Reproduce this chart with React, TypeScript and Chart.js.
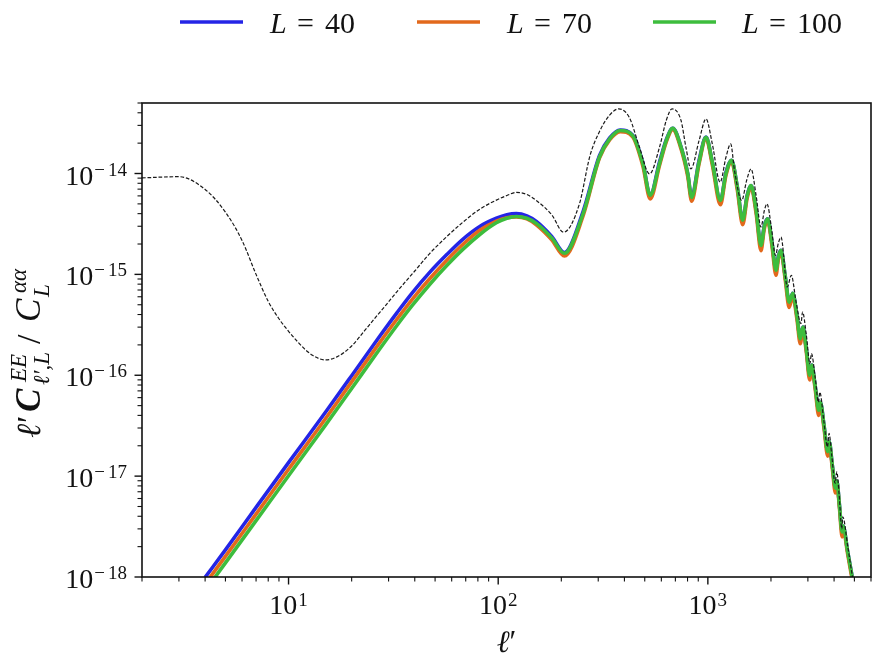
import { useEffect, useRef } from 'react';
import { Chart, registerables } from 'chart.js';

Chart.register(...registerables);

// ---- axis ranges & tick labels ----
const X_MIN = 2;
const X_MAX = 6000;
const Y_MIN = 1e-18;
const Y_MAX = 5e-14;
const xMajorExps = [1, 2, 3];
const yMajorExps = [-18, -17, -16, -15, -14];

// ---- legend ----
const legendLabels = ['40', '70', '100'];
const seriesColors = ['#2424e6', '#e2691c', '#3dbd3d'];

// ---- colored series (shared multipole grid) ----
const ellL = [4, 5, 7, 10, 15, 20, 27, 33, 39, 47, 57, 68, 82, 98, 110, 122, 137, 152, 180, 207, 254, 304, 340, 382, 438, 490, 531, 588, 633, 680, 745, 802, 837, 908, 980, 1050, 1148, 1220, 1297, 1380, 1466, 1540, 1607, 1700, 1792, 1860, 1928, 2020, 2114, 2170, 2233, 2340, 2443, 2540, 2660, 2760, 2840, 2950, 3060, 3130, 3250, 3380, 3440, 3580, 3730, 3790, 3920, 4060, 4120, 4240, 4370, 4420, 4640, 5100];

const valsL40 = [9.9e-19, 1.86e-18, 4.9e-18, 1.36e-17, 4.3e-17, 9.9e-17, 2.38e-16, 4.2e-16, 6.6e-16, 1.04e-15, 1.58e-15, 2.24e-15, 3.0e-15, 3.6e-15, 3.9e-15, 4.0e-15, 3.8e-15, 3.35e-15, 2.38e-15, 1.65e-15, 4.2e-15, 1.5e-14, 2.25e-14, 2.7e-14, 2.4e-14, 1.27e-14, 6.1e-15, 1.3e-14, 2.15e-14, 2.8e-14, 1.83e-14, 9.9e-15, 5.8e-15, 1.35e-14, 2.3e-14, 1.3e-14, 5.4e-15, 1.03e-14, 1.35e-14, 7.5e-15, 3.45e-15, 6.1e-15, 7.6e-15, 4.3e-15, 1.94e-15, 3.05e-15, 3.56e-15, 2.1e-15, 1.1e-15, 1.52e-15, 1.73e-15, 9.5e-16, 5.3e-16, 6.5e-16, 3.9e-16, 2.3e-16, 3.0e-16, 1.8e-16, 1.0e-16, 1.26e-16, 7.8e-17, 4.5e-17, 5.4e-17, 3.2e-17, 1.75e-17, 2.2e-17, 1.3e-17, 7.6e-18, 9.0e-18, 5.2e-18, 2.8e-18, 3.2e-18, 1.8e-18, 6e-19];

const valsL70 = [8.5e-19, 1.6e-18, 4.2e-18, 1.17e-17, 3.7e-17, 8.6e-17, 2.06e-16, 3.63e-16, 5.7e-16, 9.0e-16, 1.39e-15, 1.99e-15, 2.75e-15, 3.38e-15, 3.65e-15, 3.72e-15, 3.55e-15, 3.1e-15, 2.2e-15, 1.52e-15, 3.8e-15, 1.42e-14, 2.15e-14, 2.6e-14, 2.3e-14, 1.18e-14, 5.6e-15, 1.2e-14, 2.05e-14, 2.72e-14, 1.75e-14, 9.3e-15, 5.3e-15, 1.25e-14, 2.22e-14, 1.22e-14, 4.9e-15, 9.6e-15, 1.3e-14, 7.0e-15, 3.1e-15, 5.7e-15, 7.3e-15, 4.0e-15, 1.72e-15, 2.85e-15, 3.4e-15, 1.95e-15, 9.8e-16, 1.42e-15, 1.65e-15, 8.8e-16, 4.7e-16, 6.1e-16, 3.6e-16, 2.05e-16, 2.85e-16, 1.68e-16, 9.0e-17, 1.2e-16, 7.3e-17, 4.0e-17, 5.1e-17, 3.0e-17, 1.58e-17, 2.1e-17, 1.22e-17, 6.8e-18, 8.6e-18, 4.9e-18, 2.5e-18, 3.0e-18, 1.7e-18, 5.6e-19];

const valsL100 = [7.3e-19, 1.38e-18, 3.62e-18, 1.01e-17, 3.2e-17, 7.4e-17, 1.78e-16, 3.15e-16, 4.95e-16, 7.9e-16, 1.23e-15, 1.78e-15, 2.5e-15, 3.25e-15, 3.6e-15, 3.75e-15, 3.6e-15, 3.2e-15, 2.3e-15, 1.62e-15, 3.99e-15, 1.45e-14, 2.2e-14, 2.67e-14, 2.38e-14, 1.25e-14, 6.1e-15, 1.25e-14, 2.12e-14, 2.8e-14, 1.82e-14, 9.9e-15, 5.8e-15, 1.3e-14, 2.29e-14, 1.3e-14, 5.4e-15, 1.0e-14, 1.35e-14, 7.5e-15, 3.45e-15, 6.0e-15, 7.6e-15, 4.3e-15, 1.94e-15, 3.0e-15, 3.56e-15, 2.1e-15, 1.1e-15, 1.5e-15, 1.73e-15, 9.5e-16, 5.3e-16, 6.5e-16, 3.9e-16, 2.3e-16, 3.0e-16, 1.8e-16, 1.0e-16, 1.26e-16, 7.8e-17, 4.5e-17, 5.4e-17, 3.2e-17, 1.75e-17, 2.2e-17, 1.3e-17, 7.6e-18, 9.0e-18, 5.2e-18, 2.8e-18, 3.2e-18, 1.8e-18, 6e-19];

// ---- dashed reference curve ----
const ellRef = [2, 3, 4, 5, 6, 7, 8, 9, 10, 11, 12, 13, 14, 15, 17, 20, 23, 26, 29, 33, 40, 47, 56, 68, 82, 98, 110, 122, 137, 152, 180, 205, 244, 274, 304, 340, 376, 422, 472, 527, 588, 633, 675, 745, 786, 830, 908, 980, 1050, 1144, 1220, 1285, 1340, 1451, 1530, 1607, 1700, 1792, 1860, 1915, 2010, 2100, 2170, 2233, 2394, 2500, 2640, 2780, 2830, 2950, 3068, 3120, 3250, 3370, 3420, 3570, 3720, 3785, 3900, 4045, 4120, 4230, 4355, 4400, 4650, 4900, 5200];

const valsRef = [9.05e-15, 9.3e-15, 6.95e-15, 4.14e-15, 2.17e-15, 1.0e-15, 5.4e-16, 3.63e-16, 2.73e-16, 2.17e-16, 1.8e-16, 1.58e-16, 1.46e-16, 1.42e-16, 1.52e-16, 1.95e-16, 2.75e-16, 3.75e-16, 4.9e-16, 6.8e-16, 1.08e-15, 1.6e-15, 2.3e-15, 3.3e-15, 4.45e-15, 5.45e-15, 6.05e-15, 6.5e-15, 6.2e-15, 5.4e-15, 3.9e-15, 2.62e-15, 5.0e-15, 1.5e-14, 2.6e-14, 3.8e-14, 4.37e-14, 3.6e-14, 1.82e-14, 9.9e-15, 1.82e-14, 3.35e-14, 4.37e-14, 3.35e-14, 1.82e-14, 1.11e-14, 2.12e-14, 3.48e-14, 1.97e-14, 8.2e-15, 1.45e-14, 1.97e-14, 1.07e-14, 5.4e-15, 8.5e-15, 1.11e-14, 6.0e-15, 2.94e-15, 4.3e-15, 5.0e-15, 2.9e-15, 1.54e-15, 2.05e-15, 2.34e-15, 7.5e-16, 9.8e-16, 5.2e-16, 3.25e-16, 4.23e-16, 2.5e-16, 1.3e-16, 1.64e-16, 9.5e-17, 5.4e-17, 6.8e-17, 3.6e-17, 1.95e-17, 2.65e-17, 1.6e-17, 8.5e-18, 1.1e-17, 6.5e-18, 3.0e-18, 3.95e-18, 2.0e-18, 1.0e-18, 5.5e-19];

const SERIF = '"Liberation Serif", "Times New Roman", serif';

function pts(xs: number[], ys: number[]) {
  return xs.map((x, i) => ({ x, y: ys[i] }));
}

function drawPow(ctx: CanvasRenderingContext2D, exp: number, x: number, baseY: number, align: 'center' | 'right') {
  const base = '10';
  ctx.font = `28px ${SERIF}`;
  const wb = ctx.measureText(base).width;
  ctx.font = `19px ${SERIF}`;
  const wm = ctx.measureText('\u2212').width;
  const wd = ctx.measureText(String(Math.abs(exp))).width;
  const ws = exp < 0 ? wm + 3 + wd : wd;
  const total = wb + 1 + ws;
  const x0 = align === 'center' ? x - total / 2 : x - total;
  ctx.textAlign = 'left';
  ctx.textBaseline = 'alphabetic';
  ctx.font = `28px ${SERIF}`;
  ctx.fillText(base, x0, baseY);
  ctx.font = `19px ${SERIF}`;
  if (exp < 0) {
    ctx.fillText('\u2212', x0 + wb + 1, baseY - 9);
    ctx.fillText(String(-exp), x0 + wb + 1 + wm + 3, baseY - 9);
  } else {
    ctx.fillText(String(exp), x0 + wb + 1, baseY - 8);
  }
}

const decorPlugin = {
  id: 'decor',
  afterDatasetsDraw(chart: any) {
    const { ctx, chartArea: ca, scales } = chart;
    const xs = scales.x;
    const ys = scales.y;
    ctx.save();
    ctx.fillStyle = '#111';
    ctx.strokeStyle = '#111';

    // x ticks
    for (let e = 0; e <= 4; e++) {
      for (let m = 1; m <= 9; m++) {
        const v = m * Math.pow(10, e);
        if (v < X_MIN * 0.999 || v > X_MAX * 1.001) continue;
        const px = xs.getPixelForValue(v);
        const major = m === 1;
        ctx.lineWidth = major ? 1.4 : 1.1;
        ctx.beginPath();
        ctx.moveTo(px, ca.bottom);
        ctx.lineTo(px, ca.bottom + (major ? 7.5 : 4.5));
        ctx.stroke();
      }
    }
    // y ticks
    for (let e = -19; e <= -13; e++) {
      for (let m = 1; m <= 9; m++) {
        const v = m * Math.pow(10, e);
        if (v < Y_MIN * 0.999 || v > Y_MAX * 1.001) continue;
        const py = ys.getPixelForValue(v);
        const major = m === 1;
        ctx.lineWidth = major ? 1.4 : 1.1;
        ctx.beginPath();
        ctx.moveTo(ca.left, py);
        ctx.lineTo(ca.left - (major ? 7.5 : 4.5), py);
        ctx.stroke();
      }
    }

    // frame
    ctx.lineWidth = 1.6;
    ctx.strokeRect(ca.left, ca.top, ca.right - ca.left, ca.bottom - ca.top);

    // tick labels
    for (const e of xMajorExps) {
      const px = xs.getPixelForValue(Math.pow(10, e));
      drawPow(ctx, e, px, ca.bottom + 37, 'center');
    }
    for (const e of yMajorExps) {
      const py = ys.getPixelForValue(Math.pow(10, e));
      drawPow(ctx, e, ca.left - 15, py + 11, 'right');
    }

    // x title
    ctx.font = `italic 31px ${SERIF}`;
    const cx = (ca.left + ca.right) / 2;
    const wl = ctx.measureText('\u2113').width;
    ctx.font = `31px ${SERIF}`;
    const wp = ctx.measureText('\u2032').width;
    const xt0 = cx - (wl + wp) / 2;
    ctx.font = `italic 31px ${SERIF}`;
    ctx.fillText('\u2113', xt0, 652);
    ctx.font = `31px ${SERIF}`;
    ctx.fillText('\u2032', xt0 + wl, 652);

    // y title (rotated, reading bottom to top), pieces placed along the text line
    const pieces: { t: string; f: string; dy: number; at: number }[] = [
      { t: '\u2113', f: `italic 34px ${SERIF}`, dy: 0, at: 0 },
      { t: '\u2032', f: `34px ${SERIF}`, dy: 0, at: 15 },
      { t: 'C', f: `bold italic 35px ${SERIF}`, dy: 0, at: 26 },
      { t: 'EE', f: `italic 23px ${SERIF}`, dy: -14, at: 56 },
      { t: '\u2113\u2032,L', f: `italic 23px ${SERIF}`, dy: 9, at: 53 },
      { t: '/', f: `34px ${SERIF}`, dy: 0, at: 94 },
      { t: 'C', f: `italic 35px ${SERIF}`, dy: 0, at: 116 },
      { t: '\u03b1\u03b1', f: `italic 23px ${SERIF}`, dy: -14, at: 145 },
      { t: 'L', f: `italic 23px ${SERIF}`, dy: 9, at: 141 },
    ];
    ctx.translate(40, 438);
    ctx.rotate(-Math.PI / 2);
    for (const p of pieces) {
      ctx.font = p.f;
      ctx.fillText(p.t, p.at, p.dy);
    }
    ctx.restore();

    // legend
    ctx.save();
    const lineStarts = [180, 417, 653];
    const textStarts = [270, 507, 742];
    for (let i = 0; i < legendLabels.length; i++) {
      ctx.strokeStyle = seriesColors[i];
      ctx.lineWidth = 3.5;
      ctx.beginPath();
      ctx.moveTo(lineStarts[i], 22);
      ctx.lineTo(lineStarts[i] + 63, 22);
      ctx.stroke();
      ctx.fillStyle = '#111';
      ctx.textAlign = 'left';
      ctx.textBaseline = 'alphabetic';
      ctx.font = `italic 30px ${SERIF}`;
      ctx.fillText('L', textStarts[i], 33);
      ctx.font = `30px ${SERIF}`;
      ctx.fillText('=', textStarts[i] + 27, 33);
      ctx.fillText(legendLabels[i], textStarts[i] + 55, 33);
    }
    ctx.restore();
  },
};

export default function App() {
  const ref = useRef<HTMLCanvasElement>(null);
  useEffect(() => {
    document.body.style.margin = '0';
    const canvas = ref.current!;
    const common = { pointRadius: 0, fill: false, cubicInterpolationMode: 'monotone' as const };
    const chart = new Chart(canvas, {
      type: 'line',
      data: {
        datasets: [
          { ...common, label: 'ref', data: pts(ellRef, valsRef), borderColor: '#1a1a1a', borderWidth: 1.2, borderDash: [3.7, 1.8], order: 0 },
          { ...common, label: 'L = 100', data: pts(ellL, valsL100), borderColor: seriesColors[2], borderWidth: 3.6, order: 1 },
          { ...common, label: 'L = 70', data: pts(ellL, valsL70), borderColor: seriesColors[1], borderWidth: 3.6, order: 2 },
          { ...common, label: 'L = 40', data: pts(ellL, valsL40), borderColor: seriesColors[0], borderWidth: 3.6, order: 3 },
        ],
      },
      options: {
        responsive: false,
        animation: false,
        devicePixelRatio: 1,
        layout: { padding: { top: 103, right: 1, left: 0, bottom: 0 } },
        plugins: { legend: { display: false }, tooltip: { enabled: false } },
        scales: {
          x: {
            type: 'logarithmic',
            min: X_MIN,
            max: X_MAX,
            grid: { display: false },
            border: { display: false },
            ticks: { display: false },
            afterFit: (s: any) => { s.height = 86; },
          },
          y: {
            type: 'logarithmic',
            min: Y_MIN,
            max: Y_MAX,
            grid: { display: false },
            border: { display: false },
            ticks: { display: false },
            afterFit: (s: any) => { s.width = 142; },
          },
        },
      },
      plugins: [decorPlugin],
    });
    return () => chart.destroy();
  }, []);
  return (
    <div style={{ width: 872, height: 663 }}>
      <canvas ref={ref} width={872} height={663} style={{ display: 'block' }} />
    </div>
  );
}
